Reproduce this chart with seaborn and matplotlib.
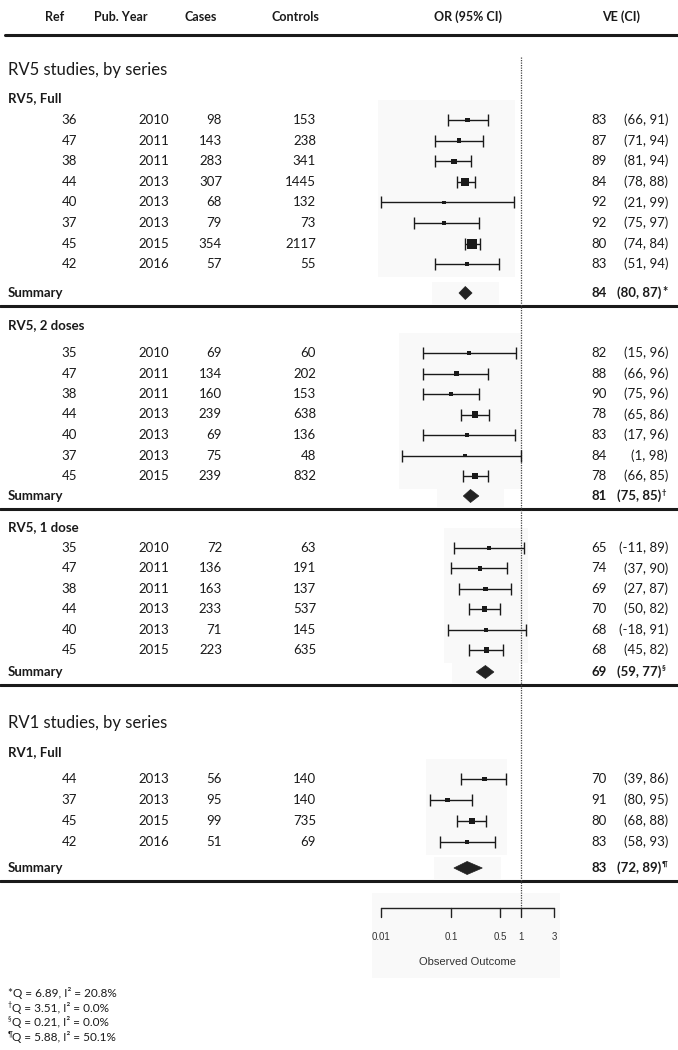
import numpy as np
import pandas as pd
import matplotlib
matplotlib.use("Agg")
import matplotlib.pyplot as plt
from matplotlib.patches import Polygon, Rectangle
import seaborn as sns

# ---- data ----
full_ref = [36, 47, 38, 44, 40, 37, 45, 42]
full_year = [2010, 2011, 2011, 2013, 2013, 2013, 2015, 2016]
full_cases = [98, 143, 283, 307, 68, 79, 354, 57]
full_controls = [153, 238, 341, 1445, 132, 73, 2117, 55]
full_ve = [83, 87, 89, 84, 92, 92, 80, 83]
full_ve_lo = [66, 71, 81, 78, 21, 75, 74, 51]
full_ve_hi = [91, 94, 94, 88, 99, 97, 84, 94]
full_summary = [84, 80, 87]

two_ref = [35, 47, 38, 44, 40, 37, 45]
two_year = [2010, 2011, 2011, 2013, 2013, 2013, 2015]
two_cases = [69, 134, 160, 239, 69, 75, 239]
two_controls = [60, 202, 153, 638, 136, 48, 832]
two_ve = [82, 88, 90, 78, 83, 84, 78]
two_ve_lo = [15, 66, 75, 65, 17, 1, 66]
two_ve_hi = [96, 96, 96, 86, 96, 98, 85]
two_summary = [81, 75, 85]

one_ref = [35, 47, 38, 44, 40, 45]
one_year = [2010, 2011, 2011, 2013, 2013, 2015]
one_cases = [72, 136, 163, 233, 71, 223]
one_controls = [63, 191, 137, 537, 145, 635]
one_ve = [65, 74, 69, 70, 68, 68]
one_ve_lo = [-11, 37, 27, 50, -18, 45]
one_ve_hi = [89, 90, 87, 82, 91, 82]
one_summary = [69, 59, 77]

rv1_ref = [44, 37, 45, 42]
rv1_year = [2013, 2013, 2015, 2016]
rv1_cases = [56, 95, 99, 51]
rv1_controls = [140, 140, 735, 69]
rv1_ve = [70, 91, 80, 83]
rv1_ve_lo = [39, 80, 68, 58]
rv1_ve_hi = [86, 95, 88, 93]
rv1_summary = [83, 72, 89]

group_names = ["RV5, Full", "RV5, 2 doses", "RV5, 1 dose", "RV1, Full"]
summary_marks = ["*", "\u2020", "\u00a7", "\u00b6"]
footnotes = ["Q = 6.89, I\u00b2 = 20.8%", "Q = 3.51, I\u00b2 = 0.0%",
             "Q = 0.21, I\u00b2 = 0.0%", "Q = 5.88, I\u00b2 = 50.1%"]
section_titles = ["RV5 studies, by series", "RV1 studies, by series"]
headers = ["Ref", "Pub. Year", "Cases", "Controls", "OR (95% CI)", "VE (CI)"]
tick_values = [0.01, 0.1, 0.5, 1, 3]
tick_labels = ["0.01", "0.1", "0.5", "1", "3"]

groups = [
    (full_ref, full_year, full_cases, full_controls, full_ve, full_ve_lo, full_ve_hi, full_summary),
    (two_ref, two_year, two_cases, two_controls, two_ve, two_ve_lo, two_ve_hi, two_summary),
    (one_ref, one_year, one_cases, one_controls, one_ve, one_ve_lo, one_ve_hi, one_summary),
    (rv1_ref, rv1_year, rv1_cases, rv1_controls, rv1_ve, rv1_ve_lo, rv1_ve_hi, rv1_summary),
]

# ---- layout (pixel rows, y grows downward) ----
label_y = [98, 325, 527, 752]
row0_y = [120, 353, 548, 779]
row_step = [20.6, 20.5, 20.4, 21.0]
summary_y = [293, 496, 672, 868]
section_y = [70, 723]
axis_y = 908

sns.set_theme(style="white")
plt.rcParams["font.family"] = ["Lato", "DejaVu Sans"]
ink = "#1a1a1a"
box = "#f9f9f9"
fs = 9.5

fig = plt.figure(figsize=(6.78, 10.5), dpi=100)
ax_t = fig.add_axes([0, 0, 1, 1])
ax_t.set_xlim(0, 678)
ax_t.set_ylim(1050, 0)
ax_t.axis("off")

# forest axes: OR = 1 sits at x=521 px, 70 px per decade
ax_f = fig.add_axes([340 / 678, 0, 260 / 678, 1])
ax_f.set_xscale("log")
ax_f.set_xlim(10 ** ((340 - 521) / 70), 10 ** ((600 - 521) / 70))
ax_f.set_ylim(1050, 0)
ax_f.axis("off")
ax_f.patch.set_alpha(0)

# header
hx = [55, 121, 201, 295, 468, 621]
for x, h in zip(hx, headers):
    ax_t.text(x, 17, h, ha="center", va="center", fontsize=9, fontweight="bold", color=ink)
ax_t.plot([5, 678], [35, 35], color=ink, lw=2.2)

for t, y in zip(section_titles, section_y):
    ax_t.text(8, y, t, ha="left", va="center", fontsize=12, color=ink)

rows = []
for g, (ref, year, cases, ctrl, ve, lo, hi, summ) in enumerate(groups):
    ys = [row0_y[g] + i * row_step[g] for i in range(len(ref))]
    ax_t.text(8, label_y[g], group_names[g], ha="left", va="center", fontsize=fs,
              fontweight="bold", color=ink)
    for i, y in enumerate(ys):
        ax_t.text(77, y, str(ref[i]), ha="right", va="center", fontsize=fs, color=ink)
        ax_t.text(154, y, str(year[i]), ha="center", va="center", fontsize=fs, color=ink)
        ax_t.text(222, y, str(cases[i]), ha="right", va="center", fontsize=fs, color=ink)
        ax_t.text(316, y, str(ctrl[i]), ha="right", va="center", fontsize=fs, color=ink)
        ax_t.text(607, y, str(ve[i]), ha="right", va="center", fontsize=fs, color=ink)
        ax_t.text(668, y, f"({lo[i]}, {hi[i]})", ha="right", va="center", fontsize=fs, color=ink)
        rows.append(dict(group=g, y=y, ve=ve[i], ve_lo=lo[i], ve_hi=hi[i]))

    # summary row
    sy = summary_y[g]
    ax_t.text(8, sy, "Summary", ha="left", va="center", fontsize=fs, fontweight="bold", color=ink)
    ax_t.text(607, sy, str(summ[0]), ha="right", va="center", fontsize=fs, fontweight="bold", color=ink)
    ax_t.text(661, sy, f"({summ[1]}, {summ[2]})", ha="right", va="center", fontsize=fs,
              fontweight="bold", color=ink)
    if summary_marks[g] == "*":
        ax_t.text(662, sy - 1, "*", ha="left", va="center", fontsize=9, fontweight="bold", color=ink)
    else:
        ax_t.text(662, sy - 4, summary_marks[g], ha="left", va="center", fontsize=5.5,
                  fontweight="bold", color=ink)
    ax_t.plot([0, 678], [sy + 13, sy + 13], color=ink, lw=2.2)

    # faint background boxes behind the forest marks
    or_lo = (100 - np.array(hi)) / 100
    or_hi = (100 - np.array(lo)) / 100
    x0, x1 = or_lo.min() / 1.12, or_hi.max() * 1.05
    ax_f.add_patch(Rectangle((x0, ys[0] - 20), x1 - x0, ys[-1] - ys[0] + 33,
                             facecolor=box, edgecolor="none", zorder=0))
    s_est = (100 - summ[0]) / 100
    ax_f.add_patch(Rectangle((s_est / 3.0, sy - 11), s_est * 3.0 - s_est / 3.0, 22,
                             facecolor=box, edgecolor="none", zorder=0))
    # diamond
    d_lo, d_hi = (100 - summ[2]) / 100, (100 - summ[1]) / 100
    ax_f.add_patch(Polygon([(d_lo, sy), (s_est, sy - 6.5), (d_hi, sy), (s_est, sy + 6.5)],
                           closed=True, facecolor="#222222", edgecolor="#222222", lw=0.5, zorder=3))

df = pd.DataFrame(rows)
df["or"] = (100 - df["ve"]) / 100
df["or_lo"] = (100 - df["ve_hi"]) / 100
df["or_hi"] = (100 - df["ve_lo"]) / 100
se = (np.log(df["or_hi"]) - np.log(df["or_lo"])) / (2 * 1.96)
df["w"] = 1 / se ** 2

ax_f.errorbar(df["or"], df["y"], xerr=[df["or"] - df["or_lo"], df["or_hi"] - df["or"]],
              fmt="none", ecolor=ink, elinewidth=1, capsize=4, capthick=1, zorder=2)
sns.scatterplot(data=df, x="or", y="y", size="w", sizes=(7, 50), marker="s",
                color=ink, linewidth=0, legend=False, ax=ax_f, zorder=3)
ax_f.set_xlabel("")
ax_f.set_ylabel("")

# reference line at OR = 1
ax_f.plot([1, 1], [57, axis_y], color="#444444", lw=0.9, ls=(0, (1, 1)), zorder=1)

# x axis drawn at bottom
ax_f.add_patch(Rectangle((0.0075, 893), 3.6 - 0.0075, 85, facecolor=box,
                         edgecolor="none", zorder=0))
ax_f.plot([tick_values[0], tick_values[-1]], [axis_y, axis_y], color="#222222", lw=1)
for tv, tl in zip(tick_values, tick_labels):
    ax_f.plot([tv, tv], [axis_y, axis_y + 9], color="#222222", lw=1)
    ax_f.text(tv, 937, tl, ha="center", va="center", fontsize=7,
              family=["Liberation Sans", "DejaVu Sans"], color="#333333")
ax_f.text(np.sqrt(tick_values[0] * tick_values[-1]), 962, "Observed Outcome", ha="center",
          va="center", fontsize=8, family=["Liberation Sans", "DejaVu Sans"], color="#333333")

# footnotes
for i, (m, note) in enumerate(zip(summary_marks, footnotes)):
    y = [993, 1007.5, 1022, 1037][i]
    if m == "*":
        ax_t.text(8, y, m + note, ha="left", va="center", fontsize=8.5, color=ink)
    else:
        ax_t.text(8, y - 3, m, ha="left", va="center", fontsize=5, color=ink)
        ax_t.text(12.5, y, note, ha="left", va="center", fontsize=8.5, color=ink)

fig.savefig("out.png", dpi=100, facecolor="white")
